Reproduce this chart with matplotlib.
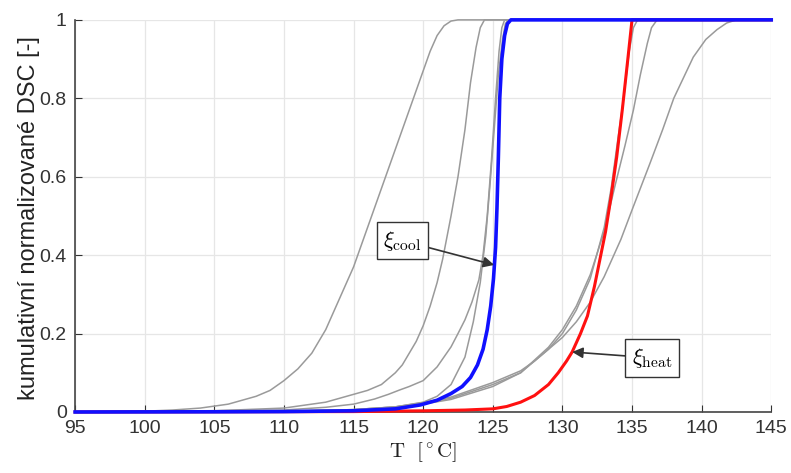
import matplotlib
matplotlib.use("Agg")
import matplotlib.pyplot as plt

# --- cumulative normalized DSC curves, T in degC ---
# gray: individual measurements
T_g1 = [95, 100, 102, 104, 105, 106, 107, 108, 109, 110, 110.5, 111, 111.5, 112, 112.5, 113, 113.5, 114, 114.5,
        115, 116, 117, 118, 119, 119.5, 120, 120.5, 121, 121.5, 122, 122.5, 145]
v_g1 = [0, 0.002, 0.005, 0.01, 0.015, 0.02, 0.03, 0.04, 0.055, 0.08, 0.095, 0.11, 0.13, 0.15, 0.18, 0.21, 0.25, 0.29, 0.33,
        0.37, 0.47, 0.57, 0.67, 0.77, 0.82, 0.87, 0.92, 0.96, 0.985, 0.997, 1.0, 1.0]

T_g2 = [95, 105, 110, 113, 115, 116, 117, 118, 118.5, 119, 119.5, 120, 120.5, 121, 121.4, 122, 122.5, 123, 123.4,
        123.8, 124.1, 124.4, 145]
v_g2 = [0, 0.003, 0.01, 0.025, 0.045, 0.055, 0.07, 0.1, 0.12, 0.15, 0.18, 0.22, 0.27, 0.33, 0.39, 0.5, 0.6, 0.72, 0.84,
        0.93, 0.98, 1.0, 1.0]

T_g3 = [95, 110, 113, 115, 116.5, 117.5, 118.3, 119, 120, 121, 122, 122.5, 123, 123.5, 124, 124.3, 124.6, 124.9,
        125.2, 125.45, 125.65, 125.85, 145]
v_g3 = [0, 0.005, 0.012, 0.02, 0.033, 0.045, 0.056, 0.065, 0.08, 0.115, 0.166, 0.2, 0.235, 0.28, 0.337, 0.4, 0.5, 0.64,
        0.8, 0.92, 0.98, 1.0, 1.0]

T_g4 = [95, 110, 115, 118, 120, 121, 122, 123, 123.6, 124.1, 124.5, 124.8, 125.1, 125.4, 125.7, 125.9, 126.1, 145]
v_g4 = [0, 0.002, 0.006, 0.013, 0.025, 0.04, 0.07, 0.14, 0.23, 0.33, 0.45, 0.58, 0.72, 0.86, 0.95, 0.99, 1.0, 1.0]

T_h1 = [95, 110, 115, 118, 120, 122, 125, 127, 129, 130, 131, 132, 133, 133.5, 134, 134.4, 134.8, 135.1, 135.4, 145]
v_h1 = [0, 0.002, 0.006, 0.013, 0.022, 0.035, 0.07, 0.1, 0.16, 0.2, 0.26, 0.34, 0.47, 0.57, 0.7, 0.8, 0.92, 0.98, 1.0, 1.0]

T_h2 = [95, 110, 115, 118, 120, 122, 125, 127, 129, 130, 131, 132, 133, 133.8, 134.5, 135.1, 135.6, 136.1, 136.4,
        136.8, 145]
v_h2 = [0, 0.002, 0.005, 0.011, 0.02, 0.032, 0.065, 0.1, 0.165, 0.21, 0.27, 0.35, 0.46, 0.58, 0.68, 0.77, 0.86, 0.94,
        0.98, 1.0, 1.0]

T_h3 = [95, 110, 115, 118, 120, 122, 125, 127, 128, 129, 130, 131, 132, 133, 134.2, 135, 136.3, 137.2, 138, 138.8,
        139.4, 140.3, 141.1, 141.8, 142.5, 145]
v_h3 = [0, 0.002, 0.006, 0.013, 0.024, 0.038, 0.075, 0.105, 0.13, 0.16, 0.19, 0.23, 0.28, 0.345, 0.44, 0.515, 0.635,
        0.72, 0.8, 0.86, 0.905, 0.95, 0.975, 0.992, 1.0, 1.0]

# blue: cooling, red: heating
T_cool = [95, 105, 110, 115, 118, 119.8, 121, 122, 122.8, 123.4, 123.9, 124.3, 124.6, 124.85, 125.05, 125.2, 125.3,
          125.4, 125.5, 125.65, 125.85, 126.05, 126.3, 145]
v_cool = [0, 0.0005, 0.001, 0.003, 0.008, 0.018, 0.03, 0.047, 0.065, 0.088, 0.12, 0.16, 0.21, 0.27, 0.34, 0.42, 0.52,
          0.65, 0.8, 0.9, 0.96, 0.99, 1.0, 1.0]

T_heat = [95, 115, 120, 123, 125, 126, 127, 128, 129, 129.7, 130.3, 130.7, 131.3, 131.8, 132.3, 132.7, 133.1, 133.5,
          133.9, 134.3, 134.7, 135.0, 145]
v_heat = [0, 0.001, 0.003, 0.005, 0.008, 0.014, 0.025, 0.042, 0.07, 0.1, 0.13, 0.153, 0.2, 0.245, 0.32, 0.39, 0.46,
          0.55, 0.65, 0.77, 0.9, 1.0, 1.0]

x_ticks = [95, 100, 105, 110, 115, 120, 125, 130, 135, 140, 145]
y_ticks = [0, 0.2, 0.4, 0.6, 0.8, 1.0]
y_ticklabels = ['0', '0.2', '0.4', '0.6', '0.8', '1']

plt.rcParams['font.family'] = ['Liberation Sans', 'DejaVu Sans']
plt.rcParams['mathtext.fontset'] = 'cm'

fig = plt.figure(figsize=(7.91, 4.73), dpi=100)
ax = fig.add_axes([0.095, 0.129, 0.88, 0.829])

gray = '#9a9a9a'
for T, v in [(T_g1, v_g1), (T_g2, v_g2), (T_g3, v_g3), (T_g4, v_g4),
             (T_h1, v_h1), (T_h2, v_h2), (T_h3, v_h3)]:
    ax.plot(T, v, color=gray, lw=1.1, clip_on=False, zorder=2)

ax.plot(T_heat, v_heat, color='#ff1010', lw=2.2, clip_on=False, zorder=3)
ax.plot(T_cool, v_cool, color='#1010ff', lw=2.6, clip_on=False, zorder=4)

ax.set_xlim(95, 145)
ax.set_ylim(0, 1)
ax.set_xticks(x_ticks)
ax.set_yticks(y_ticks)
ax.set_yticklabels(y_ticklabels)
ax.grid(True, color='#e6e6e6', lw=0.9)
ax.set_axisbelow(True)
ax.tick_params(direction='in', length=5, labelsize=14, colors='#333333', pad=6)
for s in ['top', 'right']:
    ax.spines[s].set_visible(False)
for s in ['left', 'bottom']:
    ax.spines[s].set_color('#444444')
    ax.spines[s].set_linewidth(1.2)

ax.set_xlabel(r'$\mathrm{T}\ \ [^\circ\mathrm{C}]$', fontsize=15, labelpad=2, color='#222222')
ax.set_ylabel('kumulativní normalizované DSC [-]', fontsize=17, color='#222222')
ax.yaxis.set_label_coords(-0.05, 0.494)

box = dict(boxstyle='square,pad=0.3', fc='white', ec='#333333', lw=1.0)
arr = dict(arrowstyle='-|>', color='#333333', lw=1.2, mutation_scale=16, shrinkA=0, shrinkB=0)
ax.annotate(r'$\xi_{\rm cool}$', xy=(125.1, 0.375), xytext=(118.5, 0.437),
            ha='center', va='center', fontsize=16, bbox=box, arrowprops=arr, zorder=6)
ax.annotate(r'$\xi_{\rm heat}$', xy=(130.7, 0.153), xytext=(136.45, 0.138),
            ha='center', va='center', fontsize=16, bbox=box, arrowprops=arr, zorder=6)

fig.savefig('out.png', dpi=100)
